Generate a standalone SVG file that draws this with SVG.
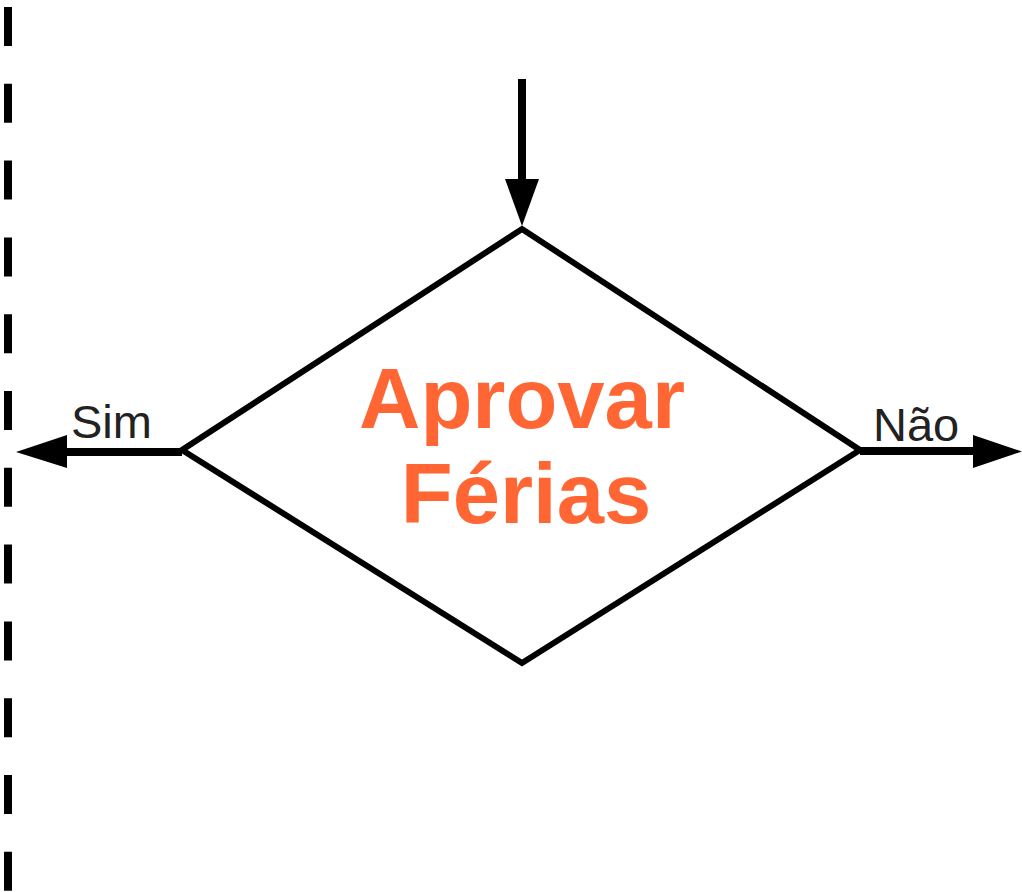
<svg xmlns="http://www.w3.org/2000/svg" width="1022" height="892" viewBox="0 0 1022 892">
<style>
.ln{stroke:#000;stroke-width:8;fill:none}
.lbl{font-family:"Liberation Sans",Arial,sans-serif;font-size:47px;fill:#222}
.title{font-family:"Liberation Sans",Arial,sans-serif;font-size:85px;font-weight:bold;fill:#FF6633;text-anchor:middle}
</style>
<rect width="1022" height="892" fill="#fff"/>
<g id="lane-divider">
<line x1="8" y1="7" x2="8" y2="892" stroke="#000" stroke-width="8" stroke-dasharray="39 37.8"/>
</g>
<g id="connectors">
<line class="ln" x1="522" y1="79" x2="522" y2="182"/>
<polygon points="505,179 539,179 522,226" fill="#000"/>
<line class="ln" x1="182" y1="452" x2="64" y2="452"/>
<polygon points="67,435 67,468 16,452" fill="#000"/>
<line class="ln" x1="860" y1="451" x2="976" y2="451"/>
<polygon points="973,435 973,468 1022,451.5" fill="#000"/>
<text class="lbl" x="71" y="438">Sim</text>
<text class="lbl" x="873" y="441">Não</text>
</g>
<g id="decision">
<polygon points="522,229 860,450 522,663 182,450" fill="#fff" stroke="#000" stroke-width="6" stroke-linejoin="miter"/>
<text class="title" x="522" y="428">Aprovar</text>
<text class="title" x="526" y="523">Férias</text>
</g>
</svg>
